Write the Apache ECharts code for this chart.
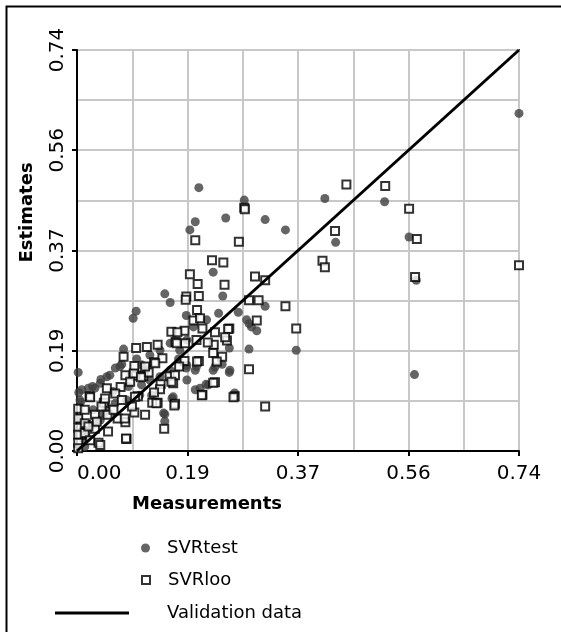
<!DOCTYPE html>
<html>
<head>
<meta charset="utf-8">
<script src="https://cdn.jsdelivr.net/npm/echarts@6/dist/echarts.min.js"></script>
<style>
  html, body { margin: 0; padding: 0; background: #fff; }
  #chart { width: 561px; height: 632px; }
</style>
</head>
<body>
<div id="chart"></div>
<script>
// Tick labels shown on both axes (major step 0.185)
const tickLabels = ['0.00', '0.19', '0.37', '0.56', '0.74'];
const axisNames = ['Measurements', 'Estimates'];
const seriesNames = ['SVRtest', 'SVRloo', 'Validation data'];

// SVRtest: [measurement, estimate]
const svrTest = [
  [0.740, 0.623], [0.204, 0.486], [0.280, 0.463], [0.249, 0.430], [0.315, 0.427],
  [0.198, 0.423], [0.189, 0.408], [0.349, 0.408], [0.415, 0.466], [0.515, 0.460],
  [0.433, 0.385], [0.556, 0.395], [0.568, 0.315], [0.565, 0.141], [0.367, 0.186],
  [0.315, 0.267], [0.228, 0.330], [0.244, 0.286], [0.147, 0.290], [0.156, 0.274],
  [0.099, 0.258], [0.094, 0.245], [0.183, 0.250], [0.270, 0.256], [0.288, 0.235],
  [0.301, 0.222], [0.288, 0.188], [0.255, 0.145], [0.264, 0.107], [0.216, 0.123],
  [0.198, 0.149], [0.231, 0.155], [0.243, 0.160], [0.255, 0.190], [0.002, 0.145],
  [0.147, 0.068], [0.147, 0.055], [0.159, 0.097], [0.050, 0.137], [0.040, 0.132],
  [0.026, 0.119], [0.075, 0.160], [0.078, 0.188], [0.003, 0.108], [0.006, 0.090],
  [0.072, 0.156], [0.030, 0.116], [0.019, 0.116], [0.008, 0.113], [0.005, 0.094],
  [0.055, 0.140], [0.039, 0.125], [0.064, 0.153], [0.108, 0.159], [0.122, 0.177],
  [0.139, 0.186], [0.172, 0.186], [0.156, 0.199], [0.184, 0.205], [0.195, 0.229],
  [0.217, 0.242], [0.237, 0.254], [0.284, 0.242], [0.292, 0.229], [0.200, 0.156],
  [0.228, 0.149], [0.256, 0.149], [0.220, 0.122], [0.206, 0.116], [0.198, 0.113],
  [0.184, 0.131], [0.184, 0.158], [0.156, 0.149], [0.139, 0.137], [0.122, 0.131],
  [0.161, 0.100], [0.145, 0.070], [0.125, 0.103], [0.105, 0.103], [0.083, 0.094],
  [0.064, 0.088], [0.050, 0.082], [0.027, 0.076], [0.039, 0.057], [0.022, 0.045],
  [0.011, 0.020], [0.013, 0.008], [0.108, 0.122], [0.086, 0.119], [0.003, 0.060],
  [0.005, 0.035], [0.015, 0.030], [0.030, 0.050], [0.045, 0.070], [0.060, 0.110],
  [0.090, 0.140], [0.115, 0.150], [0.100, 0.170], [0.170, 0.170], [0.183, 0.153]
];

// SVRloo: [measurement, estimate]
const svrLoo = [
  [0.740, 0.343], [0.451, 0.492], [0.516, 0.489], [0.556, 0.447], [0.569, 0.391],
  [0.432, 0.406], [0.411, 0.351], [0.415, 0.339], [0.566, 0.321], [0.280, 0.449],
  [0.281, 0.446], [0.198, 0.389], [0.271, 0.386], [0.226, 0.352], [0.245, 0.348],
  [0.189, 0.326], [0.202, 0.308], [0.247, 0.307], [0.298, 0.322], [0.315, 0.315],
  [0.183, 0.285], [0.204, 0.286], [0.201, 0.260], [0.195, 0.241], [0.288, 0.278],
  [0.304, 0.278], [0.349, 0.267], [0.301, 0.241], [0.367, 0.226], [0.210, 0.226],
  [0.180, 0.222], [0.158, 0.220], [0.165, 0.201], [0.231, 0.219], [0.255, 0.226],
  [0.251, 0.204], [0.229, 0.196], [0.219, 0.200], [0.228, 0.181], [0.243, 0.174],
  [0.204, 0.166], [0.180, 0.166], [0.288, 0.151], [0.231, 0.127], [0.210, 0.104],
  [0.264, 0.101], [0.315, 0.082], [0.164, 0.087], [0.146, 0.041], [0.135, 0.089],
  [0.126, 0.089], [0.083, 0.022], [0.036, 0.015], [0.114, 0.067], [0.096, 0.071],
  [0.081, 0.053], [0.068, 0.060], [0.051, 0.067], [0.045, 0.089], [0.030, 0.067],
  [0.021, 0.101], [0.050, 0.116], [0.073, 0.118], [0.081, 0.140], [0.096, 0.157],
  [0.099, 0.139], [0.111, 0.138], [0.120, 0.145], [0.129, 0.164], [0.135, 0.196],
  [0.117, 0.192], [0.099, 0.190], [0.078, 0.174], [0.155, 0.138], [0.161, 0.125],
  [0.140, 0.123], [0.139, 0.114], [0.129, 0.108], [0.102, 0.101], [0.030, 0.041],
  [0.015, 0.048], [0.006, 0.030], [0.002, 0.078], [0.002, 0.060], [0.002, 0.043],
  [0.002, 0.030], [0.002, 0.015], [0.002, 0.005], [0.013, 0.076], [0.013, 0.051],
  [0.013, 0.033], [0.022, 0.020], [0.039, 0.011], [0.052, 0.036], [0.033, 0.054],
  [0.019, 0.045], [0.041, 0.082], [0.061, 0.076], [0.092, 0.082], [0.097, 0.100],
  [0.080, 0.060], [0.064, 0.106], [0.075, 0.094], [0.022, 0.099], [0.047, 0.097],
  [0.143, 0.171], [0.131, 0.162], [0.114, 0.156], [0.095, 0.143], [0.107, 0.136],
  [0.089, 0.128], [0.253, 0.225], [0.248, 0.210], [0.200, 0.205], [0.181, 0.199],
  [0.167, 0.199], [0.168, 0.219], [0.182, 0.279], [0.206, 0.245], [0.234, 0.165],
  [0.201, 0.165], [0.171, 0.156], [0.164, 0.140], [0.158, 0.128], [0.228, 0.126],
  [0.209, 0.103], [0.262, 0.099], [0.133, 0.088], [0.163, 0.084], [0.082, 0.023]
];

// Identity line (estimate = measurement)
const validationLine = [[0, 0], [0.74, 0.74]];

const FONT = 'DejaVu Sans';
const GRID_COLOR = '#c8c8c8';

function tickText(v) {
  const i = Math.round(v / 0.185);
  return tickLabels[i] !== undefined ? tickLabels[i] : '';
}

function makeAxis(isY) {
  return {
    type: 'value',
    min: 0,
    max: 0.74,
    interval: 0.185,
    axisLine: { show: true, onZero: false, lineStyle: { color: '#000', width: 2 } },
    axisTick: { show: true, inside: false, length: 5, lineStyle: { color: '#000', width: 2 } },
    axisLabel: isY
      ? { formatter: tickText, fontFamily: FONT, fontSize: 20, color: '#000', rotate: 90, margin: 9 }
      : { formatter: tickText, fontFamily: FONT, fontSize: 20, color: '#000', margin: 13, alignMinLabel: 'left' },
    splitLine: { show: true, lineStyle: { color: GRID_COLOR, width: 2 } },
    minorTick: { show: false, splitNumber: 2 },
    minorSplitLine: { show: true, lineStyle: { color: GRID_COLOR, width: 2 } },
    name: isY ? axisNames[1] : axisNames[0],
    nameLocation: 'middle',
    nameGap: isY ? 41 : 44,
    nameTextStyle: isY
      ? { fontFamily: FONT, fontWeight: 'bold', fontSize: 18, color: '#000', padding: [0, 0, 0, 76] }
      : { fontFamily: FONT, fontWeight: 'bold', fontSize: 18, color: '#000', padding: [0, 182, 0, 0] }
  };
}

const legendText = { fontFamily: FONT, fontSize: 18, color: '#000' };

const chart = echarts.init(document.getElementById('chart'), null, { renderer: 'canvas' });
chart.setOption({
  animation: false,
  backgroundColor: '#fff',
  grid: {
    left: 77, right: 42, top: 50, bottom: 181,
    show: true, borderColor: '#333', borderWidth: 2, backgroundColor: 'transparent'
  },
  xAxis: makeAxis(false),
  yAxis: makeAxis(true),
  legend: [
    { data: [seriesNames[0]], left: 141, top: 539, padding: 0, itemWidth: 9, itemHeight: 9,
      selectedMode: false, textStyle: Object.assign({ padding: [0, 0, 0, 12] }, legendText) },
    { data: [seriesNames[1]], left: 141, top: 571, padding: 0, itemWidth: 8, itemHeight: 8,
      selectedMode: false, textStyle: Object.assign({ padding: [0, 0, 0, 13] }, legendText) },
    { data: [{ name: seriesNames[2], icon: 'path://M0,0H74V3H0Z' }], left: 55, top: 604, padding: 0,
      itemWidth: 74, itemHeight: 14, selectedMode: false,
      itemStyle: { color: '#000' },
      textStyle: Object.assign({ padding: [0, 0, 0, 33] }, legendText) }
  ],
  graphic: [
    { type: 'rect', left: 4, top: 4, silent: true,
      shape: { width: 620, height: 700 },
      style: { fill: 'none', stroke: '#000', lineWidth: 2 } }
  ],
  series: [
    {
      name: seriesNames[0], type: 'scatter', data: svrTest, clip: false,
      symbol: 'circle', symbolSize: 9,
      itemStyle: { color: '#3f3f3f' }
    },
    {
      name: seriesNames[1], type: 'scatter', data: svrLoo, clip: false,
      symbol: 'rect', symbolSize: 8,
      itemStyle: { color: '#fff', borderColor: '#000', borderWidth: 2 }
    },
    {
      name: seriesNames[2], type: 'line', data: validationLine,
      symbol: 'none', showSymbol: false, silent: true, z: 5,
      itemStyle: { color: '#000' },
      lineStyle: { color: '#000', width: 3 }
    }
  ]
});
</script>
</body>
</html>
